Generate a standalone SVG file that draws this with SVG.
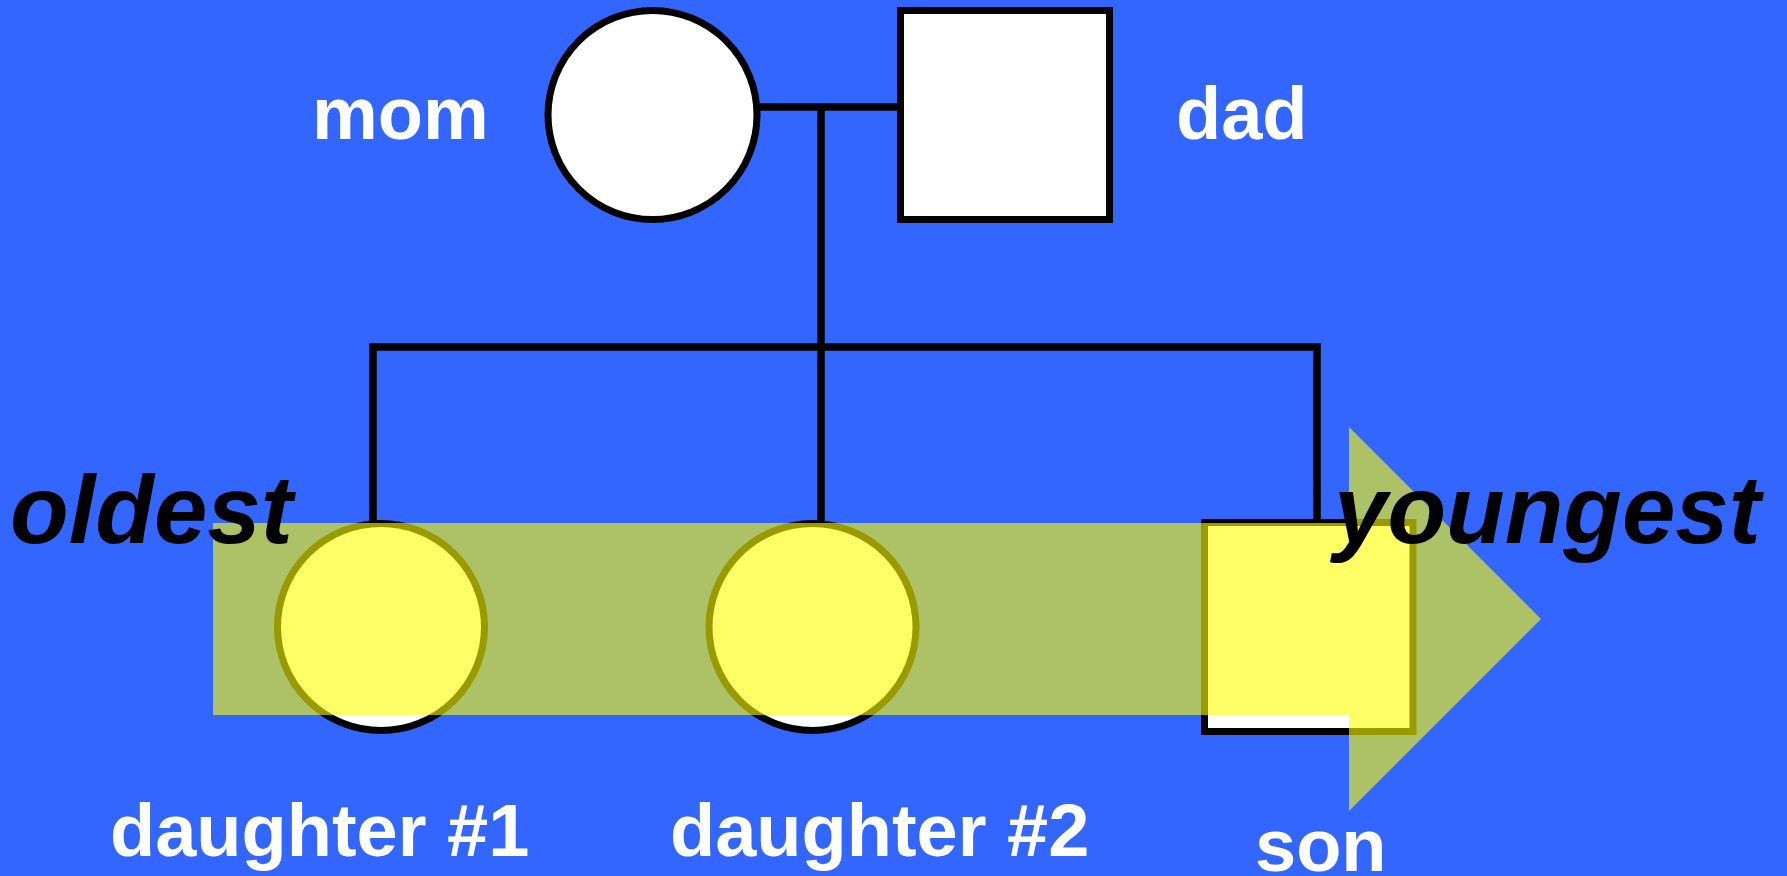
<svg xmlns="http://www.w3.org/2000/svg" width="1787" height="876" viewBox="0 0 1787 876">
<style>
.shape{fill:#FFFFFF;stroke:#000000;stroke-width:7}
.line{fill:none;stroke:#000000;stroke-width:7.5;stroke-linejoin:miter;stroke-linecap:butt}
.lbl{font-family:"Liberation Sans",Arial,Helvetica,sans-serif;font-weight:bold;font-size:74px;fill:#FFFFFF}
.age{font-family:"Liberation Sans",Arial,Helvetica,sans-serif;font-weight:bold;font-style:italic;font-size:96px;fill:#000000}
.hl{fill:#FFFF00;fill-opacity:0.6;stroke:none}
</style>
<rect x="0" y="0" width="1787" height="876" fill="#3366FF"/>
<g id="connectors">
<path class="line" d="M760 107 H897"/>
<path class="line" d="M821 107 V347"/>
<path class="line" d="M373 521 V347 H1317 V519"/>
<path class="line" d="M821 347 V521"/>
</g>
<g id="mom"><circle class="shape" cx="652.5" cy="115" r="104.5"/><text class="lbl" x="312" y="139">mom</text></g>
<g id="dad"><rect class="shape" x="900.5" y="10.5" width="209" height="209"/><text class="lbl" x="1176" y="139">dad</text></g>
<g id="daughter1"><circle class="shape" cx="381" cy="627" r="103.5"/></g>
<g id="daughter2"><circle class="shape" cx="812.5" cy="627" r="103.5"/></g>
<g id="son"><rect class="shape" x="1204.5" y="522.5" width="208.5" height="209"/></g>
<g id="age-arrow"><polygon class="hl" points="213,523 1349,523 1349,427 1541,619 1349,811 1349,715 213,715"/></g>
<g id="labels">
<text class="lbl" x="110" y="856">daughter #1</text>
<text class="lbl" x="670" y="856">daughter #2</text>
<text class="lbl" x="1255" y="871">son</text>
<text class="age" x="10" y="543">oldest</text>
<text class="age" x="1334" y="543">youngest</text>
</g>
</svg>
